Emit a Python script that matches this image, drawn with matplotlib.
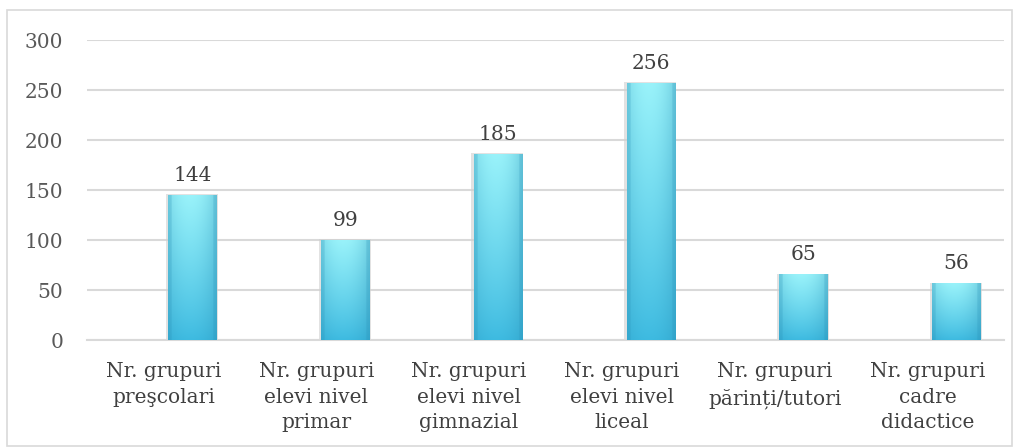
import matplotlib

matplotlib.use("Agg")
import matplotlib.pyplot as plt
import numpy as np
from matplotlib.patches import Rectangle

categorii = [
    "Nr. grupuri\npreşcolari",
    "Nr. grupuri\nelevi nivel\nprimar",
    "Nr. grupuri\nelevi nivel\ngimnazial",
    "Nr. grupuri\nelevi nivel\nliceal",
    "Nr. grupuri\npărinți/tutori",
    "Nr. grupuri\ncadre\ndidactice",
]
valori = [144, 99, 185, 256, 65, 56]
yticks = [0, 50, 100, 150, 200, 250, 300]

plt.rcParams["font.family"] = ["DejaVu Serif"]

fig = plt.figure(figsize=(10.19, 4.48), dpi=100)
fig.patches.append(Rectangle((7 / 1019, 2 / 448), 1005 / 1019, 436 / 448,
                             transform=fig.transFigure, fill=False,
                             edgecolor="#d9d9d9", lw=1.2))
ax = fig.add_axes([87 / 1019, 108 / 448, 917 / 1019, 300 / 448])

x = np.arange(len(valori))
off, w = 0.19, 0.32

# gradient cilindric pentru bare
t = np.linspace(0, 1, 80)
prof = 1 - 0.35 * (np.abs(t - 0.45) / 0.55) ** 2
edge = np.minimum(t, 1 - t)
prof = prof * np.where(edge < 0.07, 0.78, 1.0)
v = np.linspace(0, 1, 200)[:, None]
top = np.array([0.60, 0.95, 0.98])
bot = np.array([0.24, 0.73, 0.88])
base = bot + (top - bot) * v[..., None] ** 0.9
dark = np.array([0.15, 0.55, 0.70])
img = dark + (base - dark) * prof[None, :, None]
img = np.clip(img, 0, 1)

bars = ax.bar(x + off, valori, width=w, color="none", zorder=3)
for b, val in zip(bars, valori):
    x0, y0 = b.get_x(), b.get_y()
    bw, bh = b.get_width(), b.get_height()
    # umbra
    ax.add_patch(Rectangle((x0 - 0.015, y0), bw + 0.02, bh + 1.5,
                           color="#cfcfcf", alpha=0.6, zorder=2, lw=0))
    ax.imshow(img, extent=[x0, x0 + bw, y0, y0 + bh], origin="lower",
              aspect="auto", zorder=3, interpolation="bilinear")
    ax.text(x0 + bw / 2, val + 11, str(val), ha="center", va="bottom",
            fontsize=14.5, color="#404040")

ax.set_xlim(-0.5, len(valori) - 0.5)
ax.set_ylim(0, 300)
ax.set_yticks(yticks)
ax.set_xticks(x)
ax.set_xticklabels(categorii, fontsize=14.5, color="#404040", linespacing=1.42)
ax.tick_params(axis="y", labelsize=14.5, labelcolor="#595959", length=0, pad=17)
ax.tick_params(axis="x", length=0, pad=16)
ax.grid(axis="y", color="#d9d9d9", lw=1.5, zorder=0)
ax.set_axisbelow(True)
for s in ["top", "right", "left"]:
    ax.spines[s].set_visible(False)
ax.spines["bottom"].set_color("#d9d9d9")
ax.spines["bottom"].set_linewidth(1.5)

fig.savefig("out.png", dpi=100)
